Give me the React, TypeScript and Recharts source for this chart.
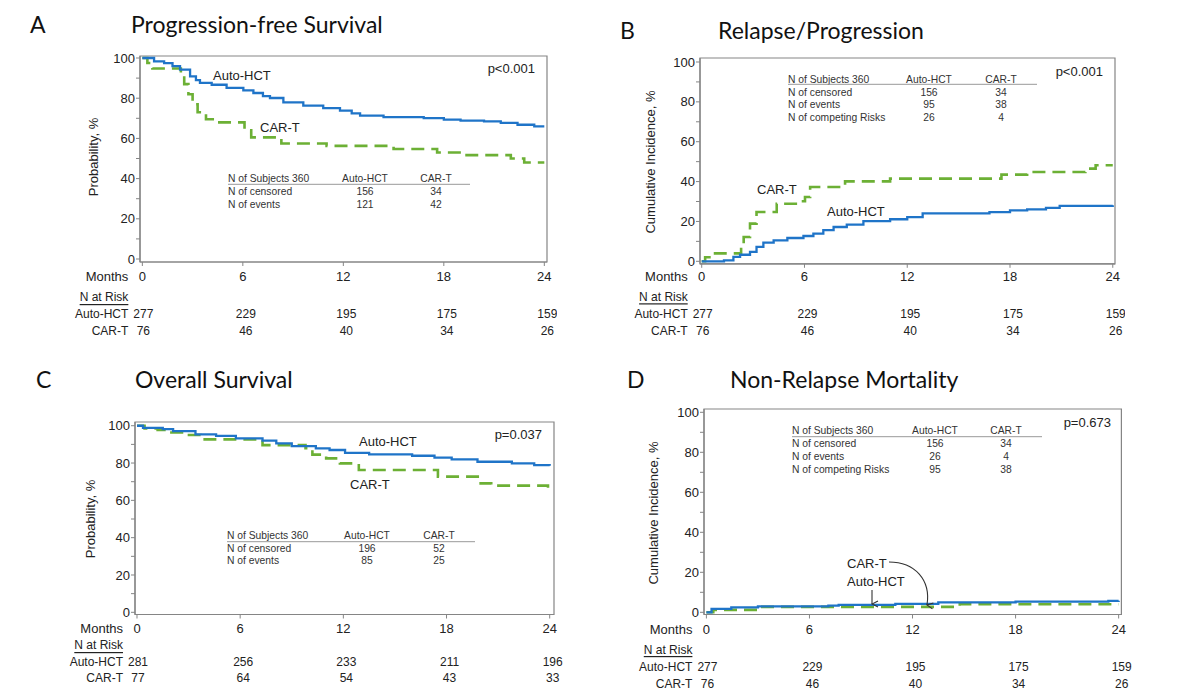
import React from 'react'
import { LineChart, Line, XAxis, YAxis, ReferenceArea } from 'recharts'

// shared axis ticks
const months = [0, 6, 12, 18, 24]
const yTicks = [0, 10, 20, 30, 40, 50, 60, 70, 80, 90, 100]

// A - progression-free survival, [month, %]
const pfsAuto = [
  [0, 100], [0.7, 98.3], [1.3, 97.5], [1.8, 96], [2.25, 94.2], [2.85, 90.9], [3.2, 89], [3.44, 87.6],
  [4.14, 86.7], [5.03, 85.1], [6.03, 83.9], [6.63, 82.6], [7.2, 81], [7.62, 80.1], [8.42, 77.9],
  [9.61, 76.3], [10.8, 75.1], [11.8, 73.8], [12.5, 72.5], [13, 71.3], [14.4, 70.6], [16.8, 70.1],
  [18, 69.3], [19, 68.8], [20.4, 68.5], [21.4, 67.7], [22.4, 66.8], [23.4, 66], [24, 66],
]
const pfsCart = [
  [0, 100], [0.3, 97.5], [0.6, 94.8], [2.3, 91], [2.5, 87], [2.75, 82], [3, 77], [3.3, 73], [3.8, 69.5],
  [4.4, 68], [6.1, 64], [6.5, 60.5], [8.3, 57.5], [11, 56.3], [15, 54.7], [17.6, 53], [19.1, 51.7],
  [22, 50], [22.8, 48], [24, 48],
]
const pfsRiskAuto = [277, 229, 195, 175, 159]
const pfsRiskCart = [76, 46, 40, 34, 26]

// B - relapse/progression
const rpAuto = [
  [0, 0], [1.3, 0.5], [1.85, 2.2], [2.24, 3.3], [2.82, 4.7], [3.2, 7.2], [3.6, 9.4], [4.2, 10.5],
  [5, 11.7], [5.94, 12.7], [6.52, 13.9], [7.1, 15.6], [7.7, 17.2], [8.47, 18.4], [9.44, 20.2],
  [11, 21.1], [12, 22.2], [12.9, 24], [16.8, 24.7], [18, 25.6], [19, 26.1], [20.1, 26.8], [20.9, 27.8],
  [24, 28.1],
]
const rpCart = [
  [0, 0], [0.2, 2], [0.45, 4], [2.3, 8], [2.45, 12.2], [2.82, 18.9], [3.2, 24.7], [4.38, 28.9],
  [5.74, 30.1], [6.03, 32.3], [6.33, 37.3], [8.37, 40.1], [11, 41.5], [17.5, 43.5], [19, 44.8],
  [22.4, 46.5], [23, 48.2], [24, 48.2],
]
const rpRiskAuto = [277, 229, 195, 175, 159]
const rpRiskCart = [76, 46, 40, 34, 26]

// C - overall survival
const osAuto = [
  [0, 100], [0.35, 98.9], [1.5, 98.2], [2.1, 97.1], [3.4, 95.4], [4.6, 94.6], [5.75, 93.2], [7.3, 92],
  [8.1, 90.5], [9, 89.1], [10.4, 87.9], [11.2, 87], [12.1, 85.5], [13.5, 84.6], [16, 83.9], [17.3, 82.9],
  [18.3, 82], [19.8, 80.7], [21.8, 79.8], [23.1, 78.9], [24, 78.6],
]
const osCart = [
  [0, 100], [0.44, 98.6], [1.2, 97.7], [2, 96.4], [2.8, 95], [3.7, 92.7], [7.3, 89.6], [9.8, 87.9],
  [10.2, 84.5], [11, 82.5], [11.8, 79.8], [12.9, 76.3], [17.5, 72.7], [19.9, 69.1], [20.6, 67.9],
  [23.9, 66], [24, 66],
]
const osRiskAuto = [281, 256, 233, 211, 196]
const osRiskCart = [77, 64, 54, 43, 33]

// D - non-relapse mortality
const nrmAuto = [
  [0, 0], [0.3, 1.7], [1.45, 2.5], [3, 3], [7.1, 3.3], [7.7, 3.7], [11, 4.2], [13.5, 5], [18, 5.3],
  [23.4, 5.7], [24, 5.8],
]
const nrmCart = [[0, 0], [0.4, 1.2], [3.1, 2.7], [14.75, 4], [24, 4]]
const nrmRiskAuto = [277, 229, 195, 175, 159]
const nrmRiskCart = [76, 46, 40, 34, 26]

// summary tables
const tableA = [['N of Subjects 360', 'Auto-HCT', 'CAR-T'], ['N of censored', '156', '34'], ['N of events', '121', '42']]
const tableB = [
  ['N of Subjects 360', 'Auto-HCT', 'CAR-T'], ['N of censored', '156', '34'], ['N of events', '95', '38'],
  ['N of competing Risks', '26', '4'],
]
const tableC = [['N of Subjects 360', 'Auto-HCT', 'CAR-T'], ['N of censored', '196', '52'], ['N of events', '85', '25']]
const tableD = [
  ['N of Subjects 360', 'Auto-HCT', 'CAR-T'], ['N of censored', '156', '34'], ['N of events', '26', '4'],
  ['N of competing Risks', '95', '38'],
]

const BLUE = '#1f74c8'
const GREEN = '#6cb035'
const FRAME = '#858585'
const INK = '#222'
const SANS = "'Liberation Sans', Arial, sans-serif"
const TICK = 4

const pts = (pairs: number[][]) => pairs.map(([t, v]) => ({ t, v }))

interface Geo {
  l: number
  r: number
  t: number
  b: number
  xDom: number[]
  yDom: number[]
  rows: number[]
}

const geoA: Geo = { l: 140, r: 547, t: 56, b: 262, xDom: [-0.14, 24.16], yDom: [-1.49, 101], rows: [14, 35, 52, 69] }
const geoB: Geo = { l: 700, r: 1115, t: 57.7, b: 263.5, xDom: [-0.1, 24.13], yDom: [-1.25, 102], rows: [12.5, 33.5, 50.5, 67.5] }
const geoC: Geo = { l: 135, r: 554, t: 422, b: 614.5, xDom: [-0.116, 24.25], yDom: [-1.18, 102], rows: [13.5, 30.5, 47.5, 63.5] }
const geoD: Geo = { l: 704.3, r: 1121.7, t: 409, b: 614.5, xDom: [-0.14, 24.16], yDom: [-1.1, 101.65], rows: [15.5, 35.5, 52.5, 69.5] }

function monthTick(p: any, g: Geo, riskAuto: number[], riskCart: number[]) {
  const i = months.indexOf(p.payload.value)
  const base = p.y - TICK
  const x = p.x
  const nx = i === 0 ? x + 1 : x + 3
  const lx = x - 14
  return (
    <g>
      <text x={x} y={base + g.rows[0]} textAnchor="middle" dominantBaseline="central" fontSize={13} fill={INK}>
        {p.payload.value}
      </text>
      <text x={nx} y={base + g.rows[2]} textAnchor="middle" dominantBaseline="central" fontSize={12} fill={INK}>
        {riskAuto[i]}
      </text>
      <text x={nx} y={base + g.rows[3]} textAnchor="middle" dominantBaseline="central" fontSize={12} fill={INK}>
        {riskCart[i]}
      </text>
      {i === 0 && (
        <g fill={INK} textAnchor="end" dominantBaseline="central">
          <text x={lx} y={base + g.rows[0]} fontSize={13}>Months</text>
          <text x={lx} y={base + g.rows[1]} fontSize={12} textDecoration="underline">N at Risk</text>
          <text x={lx} y={base + g.rows[2]} fontSize={12}>Auto-HCT</text>
          <text x={lx} y={base + g.rows[3]} fontSize={12}>CAR-T</text>
        </g>
      )}
    </g>
  )
}

function Panel({ g, auto, cart, riskAuto, riskCart }: { g: Geo; auto: number[][]; cart: number[][]; riskAuto: number[]; riskCart: number[] }) {
  return (
    <div style={{ position: 'absolute', left: g.l - 80, top: g.t - 10 }}>
      <LineChart
        width={g.r - g.l + 90}
        height={g.b - g.t + 100}
        margin={{ top: 10, right: 10, bottom: 0, left: 0 }}
      >
        <XAxis
          xAxisId="main"
          type="number"
          dataKey="t"
          domain={g.xDom}
          ticks={months}
          interval={0}
          allowDataOverflow
          height={90}
          tickSize={TICK}
          tickMargin={0}
          axisLine={{ stroke: FRAME, strokeWidth: 1.2 }}
          tickLine={{ stroke: FRAME }}
          tick={(p: any) => monthTick(p, g, riskAuto, riskCart)}
        />
        <YAxis
          yAxisId="main"
          type="number"
          domain={g.yDom}
          ticks={yTicks}
          interval={0}
          allowDataOverflow
          width={80}
          tickSize={TICK}
          tickMargin={1}
          axisLine={{ stroke: FRAME, strokeWidth: 1.2 }}
          tickLine={{ stroke: FRAME }}
          tick={{ fontSize: 13, fill: INK }}
          tickFormatter={(v: number) => (v % 20 === 0 ? String(v) : '')}
        />
        {/* plot frame */}
        <ReferenceArea
          xAxisId="main"
          yAxisId="main"
          x1={g.xDom[0]}
          x2={g.xDom[1]}
          y1={g.yDom[0]}
          y2={g.yDom[1]}
          fill="none"
          fillOpacity={0}
          stroke={FRAME}
          strokeWidth={1.2}
          ifOverflow="visible"
        />
        <Line
          xAxisId="main"
          yAxisId="main"
          data={pts(cart)}
          dataKey="v"
          type="stepAfter"
          stroke={GREEN}
          strokeWidth={2.6}
          strokeDasharray="13 7"
          dot={false}
          isAnimationActive={false}
        />
        <Line
          xAxisId="main"
          yAxisId="main"
          data={pts(auto)}
          dataKey="v"
          type="stepAfter"
          stroke={BLUE}
          strokeWidth={2.3}
          dot={false}
          isAnimationActive={false}
        />
      </LineChart>
    </div>
  )
}

function Table({ rows, x, c1, c2, end, y0, lineY, ys }: { rows: string[][]; x: number; c1: number; c2: number; end: number; y0: number; lineY: number; ys: number[] }) {
  return (
    <g fontSize={10.3} fill="#333" dominantBaseline="central">
      {rows.map((r, i) => {
        const y = i === 0 ? y0 : ys[i - 1]
        return (
          <g key={i}>
            <text x={x} y={y}>{r[0]}</text>
            <text x={c1} y={y} textAnchor="middle">{r[1]}</text>
            <text x={c2} y={y} textAnchor="middle">{r[2]}</text>
          </g>
        )
      })}
      <line x1={x} x2={end} y1={lineY} y2={lineY} stroke="#999" strokeWidth={1} />
    </g>
  )
}

const titleFont = "Lato, 'Open Sans', sans-serif"

function Overlay() {
  return (
    <svg width={1195} height={698} style={{ position: 'absolute', left: 0, top: 0, pointerEvents: 'none' }}>
      <defs>
        <marker id="arr" markerWidth="8" markerHeight="8" refX="4" refY="7" orient="auto" markerUnits="userSpaceOnUse">
          <path d="M1,1 L4,7 L7,1" fill="none" stroke="#333" strokeWidth={1.1} />
        </marker>
      </defs>
      <g fontFamily={titleFont} fontSize={23} fill="#111" dominantBaseline="central">
        <text x={30} y={24}>A</text>
        <text x={131} y={24}>Progression-free Survival</text>
        <text x={620} y={30}>B</text>
        <text x={718} y={30}>Relapse/Progression</text>
        <text x={36} y={379}>C</text>
        <text x={135} y={379}>Overall Survival</text>
        <text x={627} y={379}>D</text>
        <text x={730} y={379}>Non-Relapse Mortality</text>
      </g>
      <g fontFamily={SANS} fontSize={13} fill={INK} dominantBaseline="central">
        <text x={93} y={157} textAnchor="middle" transform="rotate(-90 93 157)">Probability, %</text>
        <text x={650} y={162} textAnchor="middle" transform="rotate(-90 650 162)">Cumulative Incidence, %</text>
        <text x={90} y={519} textAnchor="middle" transform="rotate(-90 90 519)">Probability, %</text>
        <text x={653} y={513} textAnchor="middle" transform="rotate(-90 653 513)">Cumulative Incidence, %</text>

        <text x={535} y={68} textAnchor="end">p&lt;0.001</text>
        <text x={1103} y={71} textAnchor="end">p&lt;0.001</text>
        <text x={542} y={434} textAnchor="end">p=0.037</text>
        <text x={1111} y={422} textAnchor="end">p=0.673</text>

        <text x={213} y={75}>Auto-HCT</text>
        <text x={260} y={127}>CAR-T</text>
        <text x={757} y={189}>CAR-T</text>
        <text x={827} y={211}>Auto-HCT</text>
        <text x={359} y={441}>Auto-HCT</text>
        <text x={350} y={484}>CAR-T</text>
        <text x={847} y={563}>CAR-T</text>
        <text x={847} y={581}>Auto-HCT</text>
      </g>
      <line x1={872} y1={590} x2={872} y2={604} stroke="#333" strokeWidth={1.1} markerEnd="url(#arr)" />
      <path d="M889,562 C915,562 931,580 927,605" fill="none" stroke="#333" strokeWidth={1.1} markerEnd="url(#arr)" />
      <g fontFamily={SANS}>
        <Table rows={tableA} x={228} c1={365} c2={436} end={470} y0={178} lineY={184.3} ys={[191, 204.3]} />
        <Table rows={tableB} x={788} c1={929} c2={1001} end={1037} y0={79} lineY={84.3} ys={[92, 104.7, 117.4]} />
        <Table rows={tableC} x={227} c1={367} c2={439} end={475} y0={535.7} lineY={541.7} ys={[548.3, 560.3]} />
        <Table rows={tableD} x={792} c1={935} c2={1006} end={1042} y0={430} lineY={436.7} ys={[443.3, 456.5, 469.5]} />
      </g>
    </svg>
  )
}

export default function App() {
  return (
    <div
      style={{
        position: 'absolute',
        left: 0,
        top: 0,
        width: 1195,
        height: 698,
        background: '#fff',
        fontFamily: SANS,
        overflow: 'hidden',
      }}
    >
      <Panel g={geoA} auto={pfsAuto} cart={pfsCart} riskAuto={pfsRiskAuto} riskCart={pfsRiskCart} />
      <Panel g={geoB} auto={rpAuto} cart={rpCart} riskAuto={rpRiskAuto} riskCart={rpRiskCart} />
      <Panel g={geoC} auto={osAuto} cart={osCart} riskAuto={osRiskAuto} riskCart={osRiskCart} />
      <Panel g={geoD} auto={nrmAuto} cart={nrmCart} riskAuto={nrmRiskAuto} riskCart={nrmRiskCart} />
      <Overlay />
    </div>
  )
}
